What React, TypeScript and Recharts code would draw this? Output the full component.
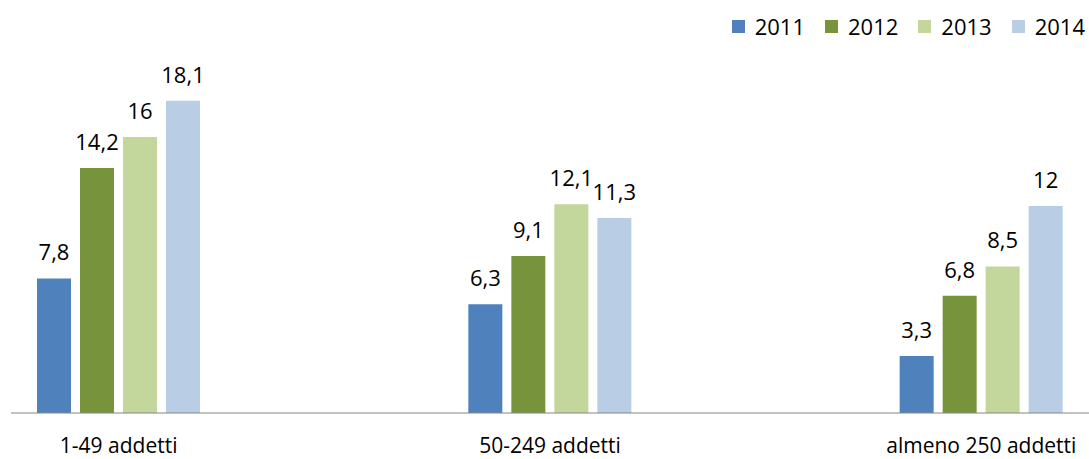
import { BarChart, Bar, XAxis, YAxis, LabelList } from 'recharts'

const categories = ['1-49 addetti', '50-249 addetti', 'almeno 250 addetti']
const years = ['2011', '2012', '2013', '2014']
const values2011 = [7.8, 6.3, 3.3]
const values2012 = [14.2, 9.1, 6.8]
const values2013 = [16, 12.1, 8.5]
const values2014 = [18.1, 11.3, 12]

const COLORS = ['#4F81BD', '#77933C', '#C3D69B', '#B9CDE5']
const FONT = '"Open Sans", sans-serif'

const series = [values2011, values2012, values2013, values2014]

const chartData = categories.map((name, i) => {
  const row: any = { name }
  years.forEach((y, j) => {
    row[y] = series[j][i]
  })
  return row
})

const fmt = (v: number) => String(v).replace('.', ',')

const ValueLabel = ({ x, y, width, value }: any) => (
  <text
    x={x + width / 2}
    y={y - 18}
    fill="#000"
    textAnchor="middle"
    fontSize={22}
    fontFamily={FONT}
  >
    {fmt(value)}
  </text>
)

// legend drawn outside the chart so it doesn't shift the plot area
const CustomLegend = () => (
  <div
    style={{
      position: 'absolute',
      top: 11,
      right: 4,
      display: 'flex',
      fontFamily: FONT,
      fontSize: 22,
      lineHeight: '30px',
      color: '#000',
    }}
  >
    {years.map((y, i) => (
      <div key={y} style={{ display: 'flex', alignItems: 'center', marginLeft: i === 0 ? 0 : 20 }}>
        <span style={{ width: 13, height: 13, background: COLORS[i], marginRight: 10, display: 'inline-block' }} />
        <span>{y}</span>
      </div>
    ))}
  </div>
)

export default function App() {
  return (
    <div style={{ position: 'absolute', left: 0, top: 0, width: 1089, height: 459, background: '#fff' }}>
      <BarChart
        width={1089}
        height={459}
        data={chartData}
        margin={{ top: 68, right: 0, bottom: 0, left: 11 }}
        barGap={9}
        barSize={34}
      >
        <XAxis
          dataKey="name"
          height={46}
          padding={{ left: -108, right: -108 }}
          tickLine={false}
          tickSize={0}
          tickMargin={25}
          axisLine={{ stroke: '#868686', strokeWidth: 1 }}
          tick={{ fontSize: 21, fontFamily: FONT, fill: '#000' }}
          interval={0}
        />
        <YAxis hide domain={[0, 20]} />
        {years.map((y, i) => (
          <Bar key={y} dataKey={y} fill={COLORS[i]} isAnimationActive={false}>
            <LabelList dataKey={y} content={<ValueLabel />} />
          </Bar>
        ))}
      </BarChart>
      <CustomLegend />
    </div>
  )
}
